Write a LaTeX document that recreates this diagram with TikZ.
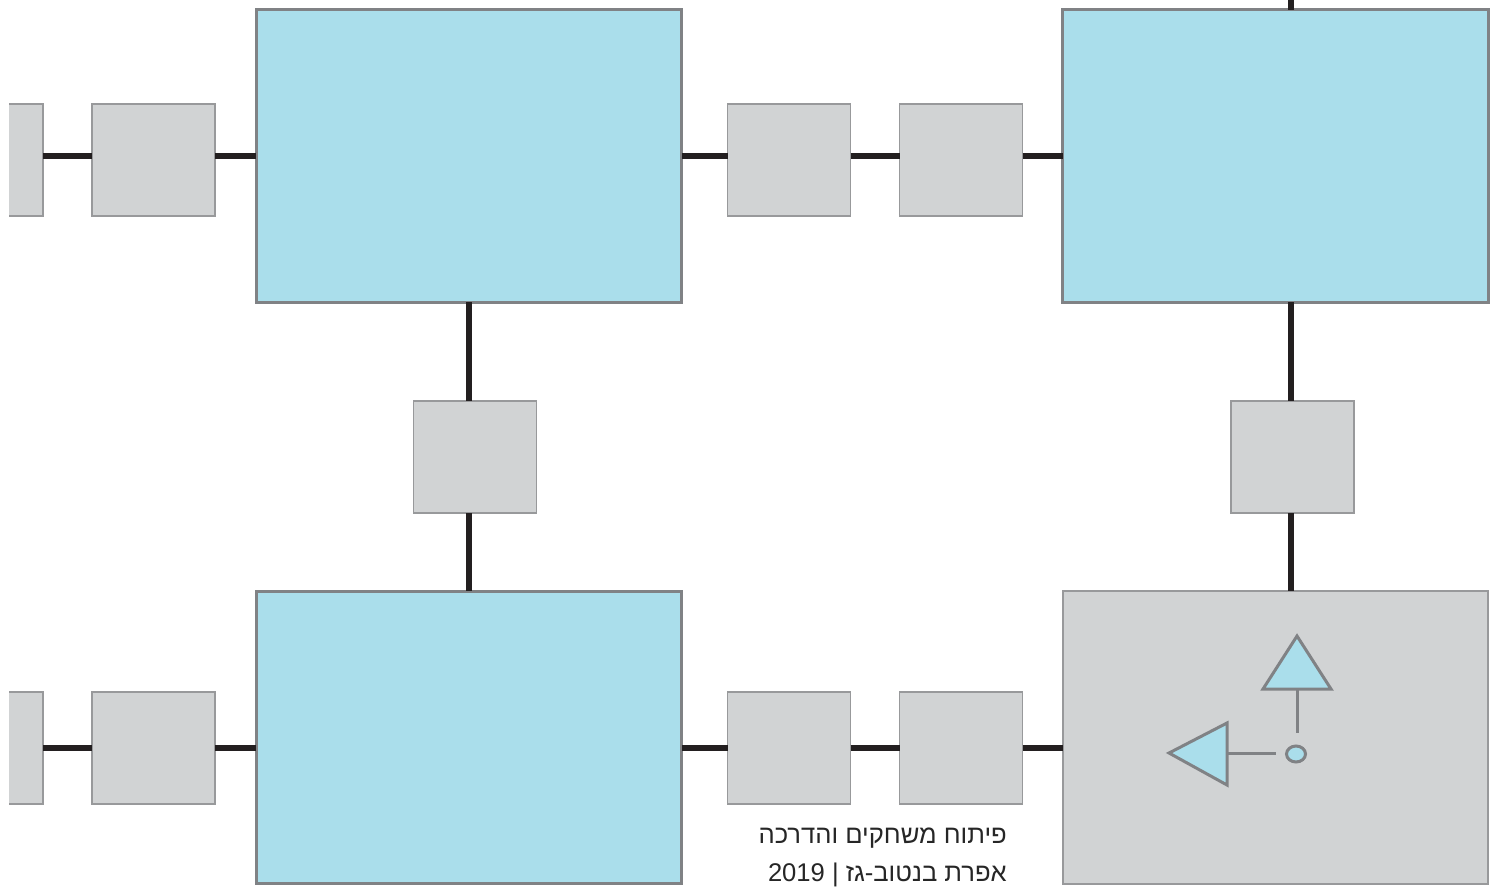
\documentclass[tikz,border=0pt]{standalone}
\usepackage{fontspec}
\usepackage{xcolor}
\usetikzlibrary{shapes.geometric}
\newfontfamily\hebrewfont[Script=Hebrew]{Liberation Sans}
\TeXXeTstate=1
\definecolor{panelblue}{HTML}{AADEEB}
\definecolor{panelgray}{HTML}{D1D3D4}
\definecolor{edgegray}{HTML}{808285}
\definecolor{smalledge}{HTML}{98999B}
\definecolor{linkblack}{HTML}{231F20}
\tikzset{
    panel/.style={rectangle, draw=edgegray, line width=2.6pt, outer sep=0pt, inner sep=0pt, minimum width=425.5pt, minimum height=292.5pt},
    bluepanel/.style={panel, fill=panelblue},
    graypanel/.style={panel, fill=panelgray, draw=smalledge, line width=1.8pt},
    smallbox/.style={rectangle, draw=smalledge, line width=1.5pt, fill=panelgray, outer sep=0pt, inner sep=0pt, minimum width=123pt, minimum height=112pt},
    stubbox/.style={rectangle, fill=panelgray, outer sep=0pt, inner sep=0pt, minimum width=34pt, minimum height=112pt},
    link/.style={line width=5.8pt, linkblack},
    glyph/.style={draw=edgegray, line width=3pt, fill=panelblue, line join=miter},
    glyphline/.style={edgegray, line width=3pt},
    credit/.style={anchor=base east, inner sep=0pt, font=\hebrewfont\fontsize{25.6}{30}\selectfont, text=black!85}
}
\begin{document}
\begin{tikzpicture}[x=1pt, y=-1pt]
\useasboundingbox (0,0) rectangle (1503,886);

% Big panels
\node[bluepanel] (panelA) at (469,156) {};
\node[bluepanel] (panelB) at (1275.5,156) {};
\node[bluepanel] (panelC) at (469,737.5) {};
\node[graypanel] (panelD) at (1275.5,737.5) {};

% Top row boxes
\node[stubbox] (stubA) at (26,160) {};
\node[smallbox] (boxA) at (153.5,160) {};
\node[smallbox] (boxB) at (789,160) {};
\node[smallbox] (boxC) at (961,160) {};

% Middle boxes
\node[smallbox] (boxD) at (475,457) {};
\node[smallbox] (boxE) at (1292.5,457) {};

% Bottom row boxes
\node[stubbox] (stubB) at (26,748) {};
\node[smallbox] (boxF) at (153.5,748) {};
\node[smallbox] (boxG) at (789,748) {};
\node[smallbox] (boxH) at (961,748) {};

% Stub outlines, open on the left
\draw[smalledge, line width=1.5pt] (stubA.north west) -- (stubA.north east) -- (stubA.south east) -- (stubA.south west);
\draw[smalledge, line width=1.5pt] (stubB.north west) -- (stubB.north east) -- (stubB.south east) -- (stubB.south west);

% Horizontal links, top row
\draw[link] (panelA.west -| stubA.east) -- (panelA.west -| boxA.west);
\draw[link] (panelA.west -| boxA.east) -- (panelA.west);
\draw[link] (panelA.east) -- (panelA.east -| boxB.west);
\draw[link] (panelA.east -| boxB.east) -- (panelA.east -| boxC.west);
\draw[link] (panelA.east -| boxC.east) -- (panelB.west);

% Vertical links
\coordinate (topEnd) at (1291,0);
\draw[link] (topEnd) -- (topEnd |- panelB.north);
\draw[link] (panelA.south) -- (panelA.south |- boxD.north);
\draw[link] (panelA.south |- boxD.south) -- (panelC.north);
\draw[link] (topEnd |- panelB.south) -- (topEnd |- boxE.north);
\draw[link] (topEnd |- boxE.south) -- (topEnd |- panelD.north);

% Horizontal links, bottom row
\draw[link] (stubB.east) -- (boxF.west);
\draw[link] (boxF.east) -- (boxF.east -| panelC.west);
\draw[link] (boxG.west -| panelC.east) -- (boxG.west);
\draw[link] (boxG.east) -- (boxH.west);
\draw[link] (boxH.east) -- (boxH.east -| panelD.west);

% Symbol in the gray panel
\coordinate (upBase) at (1297,689);
\coordinate (upEnd) at (1297,733);
\coordinate (leftBase) at (1227,753);
\coordinate (leftEnd) at (1276,753);
\draw[glyphline] (upBase) -- (upEnd);
\draw[glyphline] (leftBase) -- (leftEnd);
\draw[glyph] (1297,636) -- (1331,689) -- (1263,689) -- cycle;
\draw[glyph] (1169,753) -- (1227,723) -- (1227,785) -- cycle;
\node[ellipse, glyph, minimum width=19pt, minimum height=16pt, inner sep=0pt] (dot) at (1296,754) {};

% Credit
\node[credit] (creditA) at (1007,843) {\beginR פיתוח משחקים והדרכה\endR};
\node[credit] (creditB) at (1007,881) {\beginR אפרת בנטוב-גז | \beginL 2019\endL\endR};
\end{tikzpicture}
\end{document}
